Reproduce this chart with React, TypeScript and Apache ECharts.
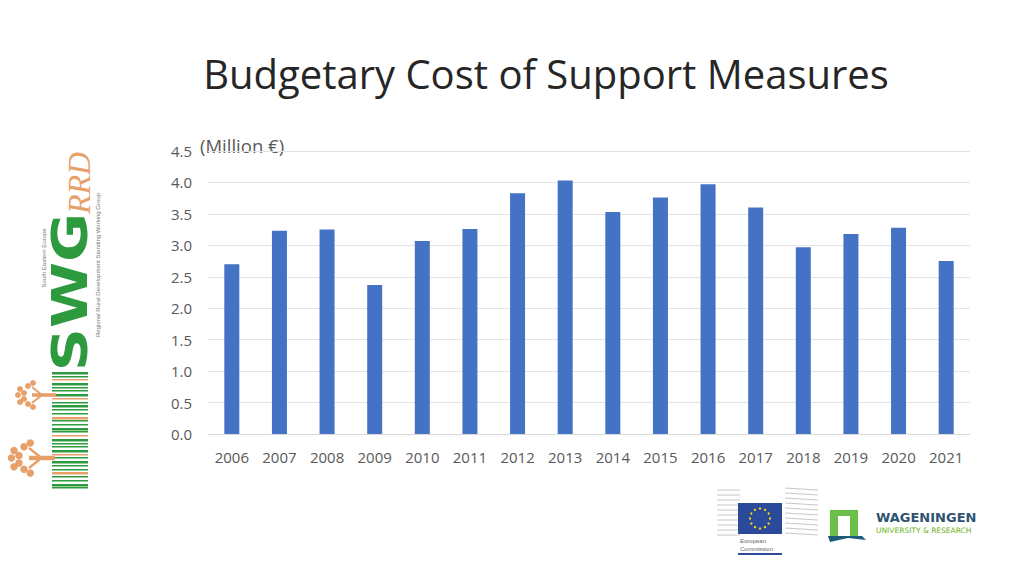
import React, { useEffect, useRef } from "react";
import * as echarts from "echarts";

const categories = ["2006","2007","2008","2009","2010","2011","2012","2013","2014","2015","2016","2017","2018","2019","2020","2021"];
const costValues = [2.70, 3.23, 3.25, 2.37, 3.07, 3.26, 3.83, 4.03, 3.53, 3.76, 3.97, 3.60, 2.97, 3.18, 3.28, 2.75];
const titleText = "Budgetary Cost of Support Measures";
const unitText = "(Million €)";

function buildLogos(): any[] {
  const els: any[] = [];
  const green = "#2e9a3e";
  const orange = "#e8a06a";
  const stripeYs = [372, 376, 379, 383, 387, 390, 394, 398, 402, 405, 409, 413, 417, 420, 424, 428, 431, 435, 439, 443, 446, 450, 454, 457, 461, 465, 469, 472, 476, 480, 484, 487];
  stripeYs.forEach((y, i) => {
    els.push({ type: "rect", shape: { x: 52, y, width: 36, height: i % 3 === 0 ? 2.4 : 1.6 }, style: { fill: i % 5 === 2 ? orange : green } });
  });
  const tree = (cx: number, cy: number, s: number) => {
    els.push({ type: "rect", shape: { x: cx - 4 * s, y: cy - 1.8 * s, width: 60 - cx, height: 3.6 * s }, style: { fill: orange } });
    els.push({ type: "line", shape: { x1: cx + 6 * s, y1: cy, x2: cx - 4 * s, y2: cy - 8 * s }, style: { stroke: orange, lineWidth: 2 * s } });
    els.push({ type: "line", shape: { x1: cx + 6 * s, y1: cy, x2: cx - 4 * s, y2: cy + 8 * s }, style: { stroke: orange, lineWidth: 2 * s } });
    [[-8, -9], [-12, -2], [-12, 4], [-8, 9], [-3, -12], [-3, 12], [-16, -6], [-16, 7], [-18, 0]].forEach(([dx, dy]) => {
      els.push({ type: "circle", shape: { cx: cx + dx * s, cy: cy + dy * s, r: 3.0 * s }, style: { fill: orange } });
    });
  };
  tree(36, 395, 1.0);
  tree(34, 458, 1.25);
  els.push({ type: "text", x: 70, y: 292, rotation: Math.PI / 2, scaleX: 1.2, style: { text: "SWG", fill: green, font: "bold 50px 'DejaVu Sans'", align: "center", verticalAlign: "middle" } });
  els.push({ type: "text", x: 79, y: 183, rotation: Math.PI / 2, style: { text: "RRD", fill: orange, font: "italic 32px 'Liberation Serif'", align: "center", verticalAlign: "middle" } });
  els.push({ type: "text", x: 44, y: 258, rotation: Math.PI / 2, style: { text: "South Eastern Europe", fill: "#777", font: "6px 'Liberation Sans'", align: "center", verticalAlign: "middle" } });
  els.push({ type: "text", x: 98, y: 265, rotation: Math.PI / 2, style: { text: "Regional Rural Development Standing Working Group", fill: "#777", font: "6px 'Liberation Sans'", align: "center", verticalAlign: "middle" } });

  for (let i = 0; i < 10; i++) {
    els.push({ type: "line", shape: { x1: 717, y1: 490 + i * 5, x2: 740, y2: 490 + i * 5 }, style: { stroke: "#c8c8c8", lineWidth: 1 } });
    els.push({ type: "line", shape: { x1: 785, y1: 488 + i * 5, x2: 818, y2: 490 + i * 5 }, style: { stroke: "#c8c8c8", lineWidth: 1 } });
  }
  els.push({ type: "rect", shape: { x: 738, y: 503, width: 44, height: 31 }, style: { fill: "#2c4a9a" } });
  for (let k = 0; k < 12; k++) {
    const a = (k / 12) * Math.PI * 2;
    els.push({ type: "circle", shape: { cx: 760 + Math.cos(a) * 10, cy: 518.5 + Math.sin(a) * 10, r: 1.2 }, style: { fill: "#f2d21b" } });
  }
  els.push({ type: "text", x: 740, y: 537, style: { text: "European\nCommission", fill: "#666", font: "6px 'Liberation Sans'", lineHeight: 8 } });
  els.push({ type: "rect", shape: { x: 738, y: 553, width: 44, height: 2 }, style: { fill: "#2c4a9a" } });

  els.push({ type: "rect", shape: { x: 830, y: 510, width: 28, height: 26 }, style: { fill: "#6cc04a" } });
  els.push({ type: "rect", shape: { x: 838, y: 516, width: 12, height: 20 }, style: { fill: "#ffffff" } });
  els.push({ type: "polygon", shape: { points: [[828, 536], [862, 536], [866, 540], [848, 538], [830, 542]] }, style: { fill: "#1f5a7a" } });
  els.push({ type: "text", x: 876, y: 517, style: { text: "WAGENINGEN", fill: "#2f5370", font: "bold 13px 'DejaVu Sans'", verticalAlign: "middle" } });
  els.push({ type: "text", x: 876, y: 530, style: { text: "UNIVERSITY & RESEARCH", fill: "#6ab023", font: "7.5px 'DejaVu Sans'", verticalAlign: "middle" } });
  return els;
}

export default function App() {
  const ref = useRef<HTMLDivElement>(null);
  useEffect(() => {
    if (!ref.current) return;
    const chart = echarts.init(ref.current, undefined, { renderer: "svg" });
    chart.setOption({
      animation: false,
      backgroundColor: "#ffffff",
      title: {
        text: titleText,
        left: 541,
        top: 48,
        textAlign: "center",
        textStyle: { fontFamily: "'Open Sans'", fontWeight: "normal", fontSize: 40, color: "#262626" },
      },
      grid: { left: 208, right: 54, top: 151, bottom: 142 },
      xAxis: {
        type: "category",
        data: categories,
        axisLine: { lineStyle: { color: "#d9d9d9" } },
        axisTick: { show: false },
        axisLabel: { color: "#595959", fontSize: 15, fontFamily: "'Open Sans'", margin: 15 },
      },
      yAxis: {
        type: "value",
        min: 0,
        max: 4.5,
        interval: 0.5,
        axisLine: { show: false },
        axisTick: { show: false },
        splitLine: { lineStyle: { color: "#e3e3e3" } },
        axisLabel: { color: "#595959", fontSize: 15, fontFamily: "'Open Sans'", margin: 16, formatter: (v: number) => v.toFixed(1) },
      },
      series: [
        { type: "bar", data: costValues, barWidth: 15, itemStyle: { color: "#4472c4" } },
      ],
      graphic: [
        { type: "text", x: 200, y: 145, style: { text: unitText, fill: "#595959", font: "18.5px 'Open Sans'", verticalAlign: "middle" } },
        ...buildLogos(),
      ],
    });
    return () => chart.dispose();
  }, []);
  return <div ref={ref} style={{ position: "fixed", left: 0, top: 0, width: 1024, height: 576 }} />;
}
